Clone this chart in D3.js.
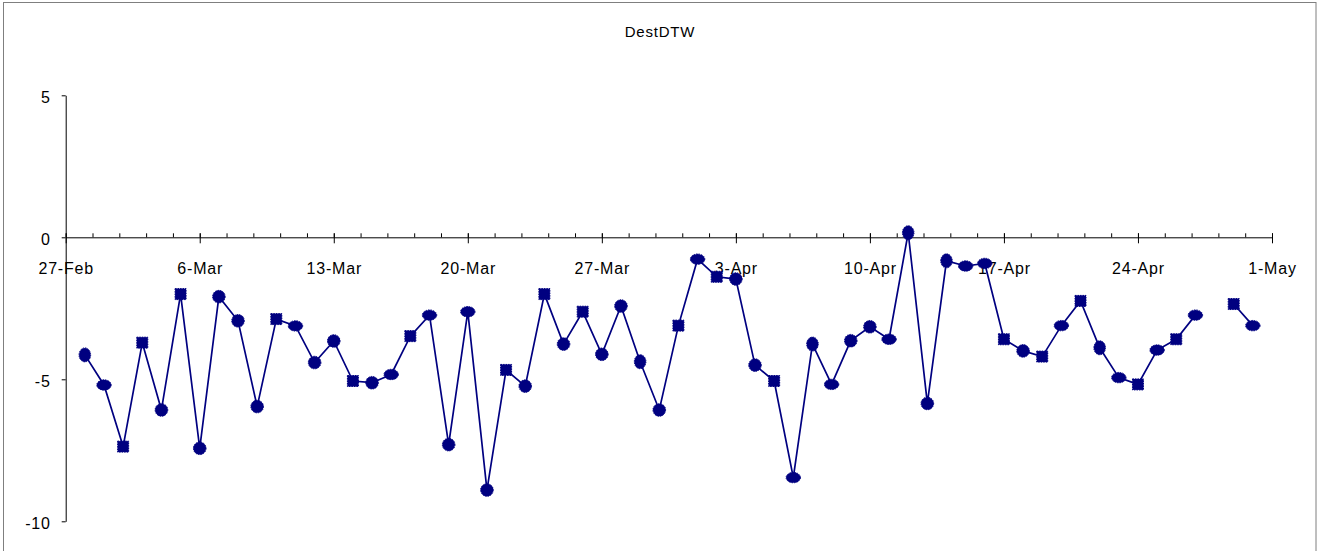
<!DOCTYPE html>
<html>
<head>
<meta charset="utf-8">
<script src="https://cdn.jsdelivr.net/npm/d3@7"></script>
<style>
  html, body { margin: 0; padding: 0; background: #fff; }
  svg { display: block; }
  text { font-family: "Liberation Sans", Arial, sans-serif; fill: #000; }
</style>
</head>
<body>
<svg id="chart" width="1318" height="551"></svg>
<script>
// Daily readings, 28 Feb – 30 Apr (28 Apr has no reading)
const dates = [
  "02-28","03-01","03-02","03-03","03-04","03-05","03-06","03-07","03-08","03-09",
  "03-10","03-11","03-12","03-13","03-14","03-15","03-16","03-17","03-18","03-19",
  "03-20","03-21","03-22","03-23","03-24","03-25","03-26","03-27","03-28","03-29",
  "03-30","03-31","04-01","04-02","04-03","04-04","04-05","04-06","04-07","04-08",
  "04-09","04-10","04-11","04-12","04-13","04-14","04-15","04-16","04-17","04-18",
  "04-19","04-20","04-21","04-22","04-23","04-24","04-25","04-26","04-27","04-28",
  "04-29","04-30"
];
const values = [
  -4.14,-5.20,-7.37,-3.71,-6.08,-2.00,-7.43,-2.09,-2.94,-5.96,
  -2.88,-3.12,-4.41,-3.65,-5.06,-5.12,-4.83,-3.48,-2.74,-7.30,
  -2.62,-8.90,-4.67,-5.24,-2.00,-3.76,-2.62,-4.12,-2.42,-4.38,
  -6.08,-3.11,-0.77,-1.39,-1.47,-4.50,-5.06,-8.46,-3.76,-5.18,
  -3.64,-3.15,-3.59,0.16,-5.85,-0.83,-1.01,-0.92,-3.59,-4.00,
  -4.20,-3.11,-2.24,-3.89,-4.94,-5.18,-3.97,-3.59,-2.74,null,
  -2.35,-3.11
];
// Marker shape per reading: s = square, o = round, w = wide round, t = tall round
const markers = [
  "t","w","s","s","o","s","o","o","o","o",
  "s","w","o","o","s","o","w","s","w","o",
  "w","o","s","o","s","o","s","o","o","t",
  "o","s","w","s","o","o","s","w","t","w",
  "o","o","w","t","o","t","w","w","s","o",
  "s","w","s","t","w","s","w","s","w","s",
  "s","w"
];
const yTicks = [-10, -5, 0, 5];
const yTickLabels = ["-10", "-5", "0", "5"];
const xTickLabels = ["27-Feb","6-Mar","13-Mar","20-Mar","27-Mar","3-Apr","10-Apr","17-Apr","24-Apr","1-May"];
const title = "DestDTW";

const YEAR = 2006;
const parseDay = d3.utcParse("%Y-%m-%d");
const parseLabel = d3.utcParse("%Y-%d-%b");
const rows = dates.map((d, i) => ({ date: parseDay(`${YEAR}-${d}`), value: values[i], marker: markers[i] }));
const majorDates = xTickLabels.map(l => parseLabel(`${YEAR}-${l}`));

const svg = d3.select("#chart");
const color = "#000080";

// chart frame
svg.append("rect")
  .attr("x", 3.5).attr("y", 2.5)
  .attr("width", 1312.5).attr("height", 570)
  .attr("fill", "none").attr("stroke", "#7f7f7f").attr("stroke-width", 1);

svg.append("text")
  .attr("x", 660).attr("y", 37)
  .attr("text-anchor", "middle")
  .style("font-size", "15px")
  .style("letter-spacing", "0.8px")
  .text(title);

const x = d3.scaleUtc()
  .domain([majorDates[0], majorDates[majorDates.length - 1]])
  .range([65.7, 1272]);
const y = d3.scaleLinear().domain([-10, 5]).range([521.3, 95.3]);

// minor ticks: five per week
const minorStep = 7 * 864e5 / 5;
const minorDates = d3.range(+majorDates[0], +majorDates[majorDates.length - 1] + 1, minorStep)
  .map(t => new Date(t));

const xMinor = svg.append("g")
  .attr("transform", `translate(0,${y(0)})`)
  .call(d3.axisBottom(x).tickValues(minorDates).tickSize(-4).tickSizeOuter(0).tickFormat(""));
xMinor.select(".domain").attr("stroke", "#000");
xMinor.selectAll(".tick line").attr("stroke", "#000");

const xMajor = svg.append("g")
  .attr("transform", `translate(0,${y(0)})`)
  .call(d3.axisBottom(x).tickValues(majorDates).tickSizeOuter(0)
    .tickFormat((d, i) => xTickLabels[i]));
xMajor.select(".domain").remove();
xMajor.selectAll(".tick line").attr("y1", -4).attr("y2", 6).attr("stroke", "#000");
xMajor.selectAll(".tick text")
  .attr("y", 36.5).attr("dy", 0)
  .style("font-size", "16px")
  .style("letter-spacing", "0.8px")
  .attr("fill", "#000");

const yAxis = svg.append("g")
  .attr("transform", "translate(65.7,0)")
  .call(d3.axisLeft(y).tickValues(yTicks).tickSize(4).tickSizeOuter(0).tickPadding(11)
    .tickFormat((d, i) => yTickLabels[i]));
yAxis.select(".domain").attr("stroke", "#000");
yAxis.selectAll(".tick line").attr("stroke", "#000");
yAxis.selectAll(".tick text")
  .style("font-size", "16px")
  .style("letter-spacing", "0.8px")
  .attr("dy", "0.42em")
  .attr("fill", "#000");

// series line, broken where a reading is missing
const line = d3.line()
  .defined(d => d.value !== null)
  .x(d => x(d.date))
  .y(d => y(d.value));
svg.append("path")
  .datum(rows)
  .attr("d", line)
  .attr("fill", "none")
  .attr("stroke", color)
  .attr("stroke-width", 1.7);

const pts = svg.append("g").selectAll("g")
  .data(rows.filter(d => d.value !== null))
  .join("g")
  .attr("transform", d => `translate(${x(d.date)},${y(d.value)})`);

pts.filter(d => d.marker === "s").append("rect")
  .attr("x", -5.5).attr("y", -5.5).attr("width", 11).attr("height", 11)
  .attr("fill", color).attr("stroke", color).attr("stroke-width", 1)
  .attr("stroke-dasharray", "1.5,1");

pts.filter(d => d.marker !== "s").append("ellipse")
  .attr("rx", d => d.marker === "w" ? 7.2 : d.marker === "t" ? 5.8 : 6.3)
  .attr("ry", d => d.marker === "w" ? 5.2 : d.marker === "t" ? 7 : 6.3)
  .attr("fill", color).attr("stroke", color).attr("stroke-width", 1)
  .attr("stroke-dasharray", "1.5,1");
</script>
</body>
</html>
